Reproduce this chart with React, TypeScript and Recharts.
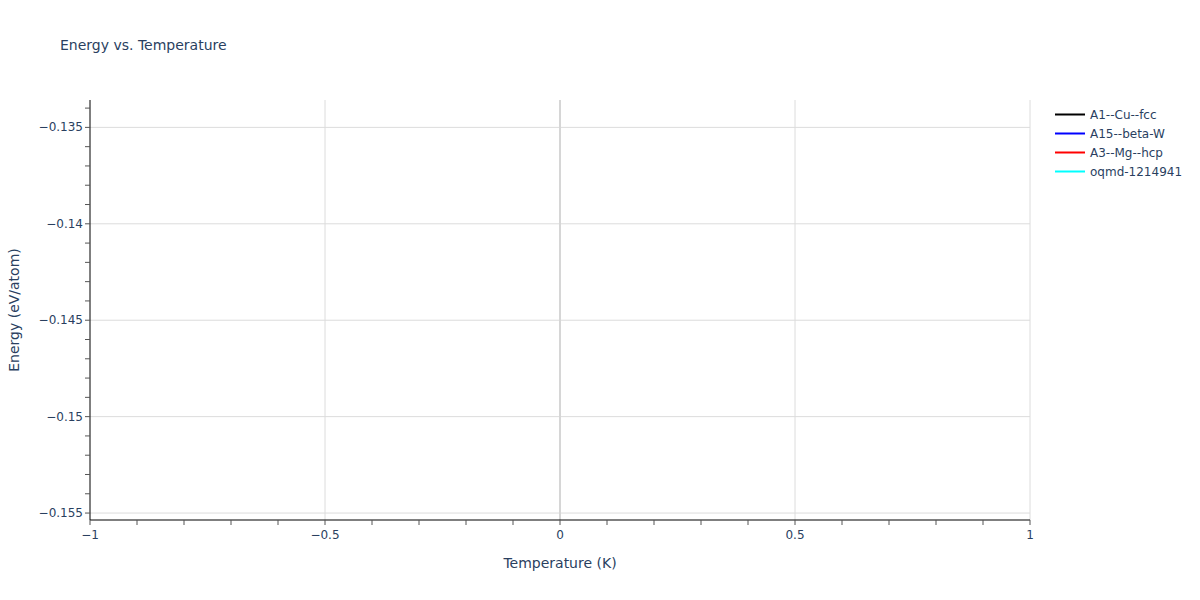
import React from "react"
import { LineChart, Line, XAxis, YAxis, Legend, ReferenceLine } from "recharts"

const seriesNames = ["A1--Cu--fcc", "A15--beta-W", "A3--Mg--hcp", "oqmd-1214941"]
const seriesColors = ["black", "blue", "red", "cyan"]
const temperatures = [0]
const cuFcc = [-0.1346]
const betaW = [-0.1544]
const mgHcp = [-0.1432]
const oqmd = [-0.1489]
const seriesValues = [cuFcc, betaW, mgHcp, oqmd]

const xDomain = [-1, 1]
const xMajorTicks = [-1, -0.5, 0, 0.5, 1]
const xTickLabels = ["−1", "−0.5", "0", "0.5", "1"]
const xMinorTicks = [-0.9, -0.8, -0.7, -0.6, -0.4, -0.3, -0.2, -0.1, 0.1, 0.2, 0.3, 0.4, 0.6, 0.7, 0.8, 0.9]

const yDomain = [-0.15536, -0.13358]
const yMajorTicks = [-0.135, -0.14, -0.145, -0.15, -0.155]
const yTickLabels = ["−0.135", "−0.14", "−0.145", "−0.15", "−0.155"]
const yMinorTicks = [
  -0.134, -0.136, -0.137, -0.138, -0.139, -0.141, -0.142, -0.143, -0.144,
  -0.146, -0.147, -0.148, -0.149, -0.151, -0.152, -0.153, -0.154,
]

const font = 'Verdana, "DejaVu Sans", sans-serif'
const textColor = "#2a3f5f"
const gridColor = "#dcdcdc"
const tickColor = "#555"

const majorIndex = (list: number[], v: number) => list.findIndex((m) => Math.abs(m - v) < 1e-9)

// single-point series: plotly draws nothing for them in lines mode
const noDot = () => <g />

function XTick(props: any) {
  const { x, y, payload } = props
  const i = majorIndex(xMajorTicks, payload.value)
  return (
    <g>
      <line x1={x} x2={x} y1={y} y2={y + 5} stroke={tickColor} />
      {i >= 0 && (
        <text x={x} y={y + 19} textAnchor="middle" fill={textColor} fontSize={12} fontFamily={font}>
          {xTickLabels[i]}
        </text>
      )}
    </g>
  )
}

function YTick(props: any) {
  const { x, y, payload } = props
  const i = majorIndex(yMajorTicks, payload.value)
  return (
    <g>
      <line x1={x - 5} x2={x} y1={y} y2={y} stroke={tickColor} />
      {i >= 0 && (
        <text x={x - 7} y={y + 4} textAnchor="end" fill={textColor} fontSize={12} fontFamily={font}>
          {yTickLabels[i]}
        </text>
      )}
    </g>
  )
}

function LegendBox({ payload }: any) {
  return (
    <div style={{ fontFamily: font, fontSize: 12, color: textColor }}>
      {(payload || []).map((p: any) => (
        <div key={p.value} style={{ display: "flex", alignItems: "center", height: 19 }}>
          <svg width={40} height={19}>
            <line x1={5} x2={35} y1={9.5} y2={9.5} stroke={p.color} strokeWidth={2} />
          </svg>
          <span>{p.value}</span>
        </div>
      ))}
    </div>
  )
}

export default function App() {
  const xTicks = [...xMajorTicks, ...xMinorTicks].sort((a, b) => a - b)
  const yTicks = [...yMajorTicks, ...yMinorTicks].sort((a, b) => a - b)
  return (
    <div style={{ position: "absolute", left: 0, top: 0, width: 1200, height: 600, background: "#fff", fontFamily: font }}>
      <LineChart width={1200} height={600} margin={{ top: 100, right: 170, bottom: 20, left: 10 }}>
        <XAxis
          type="number"
          dataKey="t"
          domain={xDomain}
          ticks={xTicks}
          interval={0}
          allowDataOverflow
          height={60}
          tickSize={0}
          tickMargin={0}
          tickLine={false}
          tick={<XTick />}
          axisLine={{ stroke: "#000", strokeWidth: 1 }}
        />
        <YAxis
          type="number"
          domain={yDomain}
          ticks={yTicks}
          interval={0}
          allowDataOverflow
          width={80}
          tickSize={0}
          tickMargin={0}
          tickLine={false}
          tick={<YTick />}
          axisLine={{ stroke: "#000", strokeWidth: 1 }}
        />
        {yMajorTicks.map((v) => (
          <ReferenceLine key={"y" + v} y={v} stroke={gridColor} strokeWidth={1} />
        ))}
        {xMajorTicks.filter((v) => v !== 0 && v !== -1).map((v) => (
          <ReferenceLine key={"x" + v} x={v} stroke={gridColor} strokeWidth={1} />
        ))}
        <ReferenceLine x={0} stroke="#d6d6d6" strokeWidth={2} />
        {seriesNames.map((name, s) => (
          <Line
            key={name}
            name={name}
            data={temperatures.map((t, i) => ({ t, e: seriesValues[s][i] }))}
            dataKey="e"
            stroke={seriesColors[s]}
            strokeWidth={2}
            dot={noDot}
            activeDot={false}
            isAnimationActive={false}
          />
        ))}
        <Legend
          layout="vertical"
          align="center"
          verticalAlign="middle"
          content={<LegendBox />}
          wrapperStyle={{ top: 105, left: 1050, width: 150 }}
        />
      </LineChart>
      <div style={{ position: "absolute", left: 60, top: 37, fontSize: 14, color: textColor }}>Energy vs. Temperature</div>
      <div style={{ position: "absolute", left: 460, width: 200, textAlign: "center", top: 555, fontSize: 14, color: textColor }}>
        Temperature (K)
      </div>
      <div
        style={{
          position: "absolute",
          left: 14,
          top: 310,
          fontSize: 14,
          color: textColor,
          whiteSpace: "nowrap",
          transform: "translate(-50%, -50%) rotate(-90deg)",
        }}
      >
        Energy (eV/atom)
      </div>
    </div>
  )
}
